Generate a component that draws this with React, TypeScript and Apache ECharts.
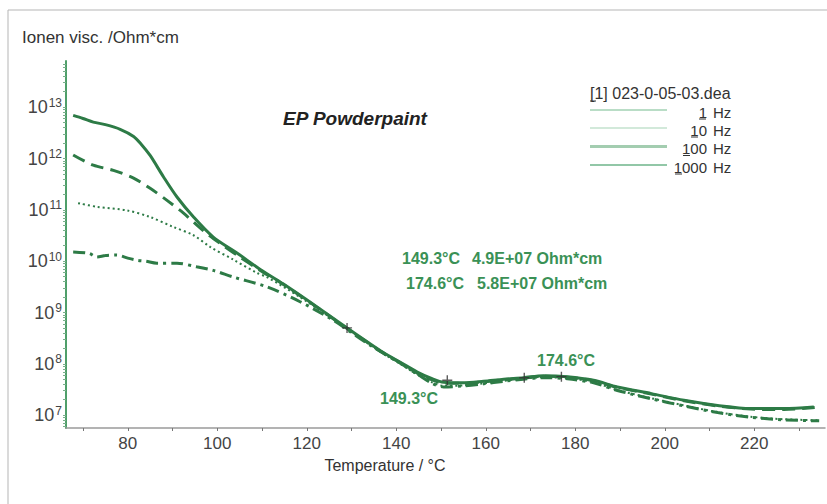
import React, { useEffect, useRef } from "react";
import * as echarts from "echarts";

// ---- data (temperature °C, log10 of ion viscosity in Ohm*cm) ----
const temp1Hz = [67.8, 70, 72.3, 75, 78.3, 81.3, 83, 85, 88, 91, 94.7, 99.1, 104.4, 109.6, 114.7, 122.3, 129, 137.1, 140.9, 144.7, 148, 150.6, 155, 159.5, 164, 168.4, 172.9, 178.2, 184.1, 189.4, 197, 204.3, 211.8, 219.2, 226.6, 233.3];
const logVisc1Hz = [12.84, 12.78, 12.71, 12.66, 12.57, 12.43, 12.28, 12.06, 11.64, 11.25, 10.86, 10.47, 10.16, 9.84, 9.56, 9.11, 8.70, 8.22, 8.03, 7.84, 7.71, 7.64, 7.63, 7.66, 7.70, 7.73, 7.77, 7.75, 7.68, 7.55, 7.42, 7.29, 7.19, 7.13, 7.13, 7.16];

const temp10Hz = [67.8, 72.3, 76.8, 81.3, 85, 88.7, 92.4, 96.8, 100.6, 104.4, 109.6, 114.7, 122.3, 129, 137.1, 140.9, 144.7, 148, 150.6, 155, 159.5, 164, 168.4, 172.9, 178.2, 184.1, 189.4, 197, 204.3, 211.8, 219.2, 226.6, 233.5];
const logVisc10Hz = [12.07, 11.87, 11.77, 11.62, 11.42, 11.19, 10.94, 10.60, 10.35, 10.12, 9.82, 9.55, 9.10, 8.69, 8.21, 8.02, 7.82, 7.69, 7.62, 7.62, 7.65, 7.69, 7.72, 7.76, 7.74, 7.67, 7.54, 7.41, 7.28, 7.18, 7.12, 7.11, 7.15];

const temp100Hz = [68.9, 73.1, 79.8, 85, 90.1, 94.6, 98.4, 103.6, 108.9, 111.1, 118.5, 124, 129, 137.1, 140.9, 144.7, 148, 150.6, 155, 159.5, 164, 168.4, 172.9, 178.2, 184.1, 189.4, 197, 204.3, 211.8, 219.2, 226.6, 234.3];
const logVisc100Hz = [11.13, 11.06, 10.99, 10.86, 10.67, 10.51, 10.28, 10.03, 9.77, 9.69, 9.30, 8.98, 8.68, 8.20, 8.00, 7.79, 7.64, 7.57, 7.58, 7.62, 7.67, 7.71, 7.74, 7.72, 7.64, 7.49, 7.33, 7.19, 7.06, 6.97, 6.92, 6.90];

const temp1000Hz = [67.8, 71.4, 73.1, 75, 77.5, 80, 82, 84, 86.5, 91, 95.4, 99.1, 103.6, 111.1, 118.5, 125.9, 133.5, 140.9, 144.7, 148, 150.6, 155, 159.5, 164, 168.4, 172.9, 178.2, 184.1, 189.4, 197, 204.3, 211.8, 219.2, 226.6, 234.5];
const logVisc1000Hz = [10.18, 10.15, 10.08, 10.11, 10.12, 10.06, 10.02, 10.0, 9.96, 9.96, 9.89, 9.82, 9.69, 9.50, 9.21, 8.85, 8.40, 8.01, 7.80, 7.62, 7.55, 7.57, 7.61, 7.66, 7.70, 7.73, 7.71, 7.63, 7.48, 7.32, 7.18, 7.05, 6.96, 6.91, 6.89];

const markerTemps = [129.0, 151.4, 168.6, 176.9];
const markerLogVisc = [8.70, 7.68, 7.73, 7.75];

const xTickValues = [70, 80, 90, 100, 110, 120, 130, 140, 150, 160, 170, 180, 190, 200, 210, 220, 230];
const xLabelValues = [80, 100, 120, 140, 160, 180, 200, 220];
const yLabelExponents = [7, 8, 9, 10, 11, 12, 13];
const legendFreqs = ["1", "10", "100", "1000"];
const legendUnit = "Hz";

const FONT = "'Liberation Sans', Arial, sans-serif";
const LINE = "#2d7b46";
const TEXT_GREEN = "#3a9156";

function yTicks(): number[] {
  const out: number[] = [];
  for (let d = 6; d <= 13; d++) {
    for (let m = 1; m <= 9; m++) {
      const v = d + Math.log10(m);
      if (v >= 6.75 && v <= 13.9) out.push(v);
    }
  }
  return out;
}

const zip = (xs: number[], ys: number[]) => xs.map((x, i) => [x, ys[i]]);

export default function App() {
  const ref = useRef<HTMLDivElement>(null);
  useEffect(() => {
    if (!ref.current) return;
    const chart = echarts.init(ref.current, undefined, { renderer: "svg" });

    const legendY = [110, 128, 146.5, 165];
    const legendLineStyles = [
      { stroke: "#b9ddc6", lineWidth: 2 },
      { stroke: "#a6d3b6", lineWidth: 1.2 },
      { stroke: "#a3cdb0", lineWidth: 3 },
      { stroke: "#6eb48a", lineWidth: 1.6 },
    ];
    const underlineX = [699, 691, 683, 675];

    const graphic: any[] = [
      { type: "rect", silent: true, shape: { x: 8, y: 10, width: 900, height: 600 }, style: { fill: "none", stroke: "#b5b5b5", lineWidth: 1 } },
      { type: "text", x: 22, y: 37, style: { text: "Ionen visc. /Ohm*cm", font: `17px ${FONT}`, fill: "#333", textVerticalAlign: "middle" } },
      { type: "text", x: 385, y: 465, style: { text: "Temperature / °C", font: `16px ${FONT}`, fill: "#333", textAlign: "center", textVerticalAlign: "middle" } },
      { type: "text", x: 283, y: 118, style: { text: "EP Powderpaint", font: `italic bold 19px ${FONT}`, fill: "#222", textVerticalAlign: "middle" } },
      { type: "text", x: 590, y: 93, style: { text: "[1] 023-0-05-03.dea", font: `16px ${FONT}`, fill: "#333", textVerticalAlign: "middle" } },
      { type: "line", shape: { x1: 590, y1: 101, x2: 596, y2: 101 }, style: { stroke: "#333", lineWidth: 1 } },
      { type: "text", x: 402, y: 258, style: { text: "149.3°C", font: `bold 16px ${FONT}`, fill: TEXT_GREEN, textVerticalAlign: "middle" } },
      { type: "text", x: 472, y: 258, style: { text: "4.9E+07 Ohm*cm", font: `bold 16px ${FONT}`, fill: TEXT_GREEN, textVerticalAlign: "middle" } },
      { type: "text", x: 406, y: 283, style: { text: "174.6°C", font: `bold 16px ${FONT}`, fill: TEXT_GREEN, textVerticalAlign: "middle" } },
      { type: "text", x: 477, y: 283, style: { text: "5.8E+07 Ohm*cm", font: `bold 16px ${FONT}`, fill: TEXT_GREEN, textVerticalAlign: "middle" } },
      { type: "text", x: 380, y: 398, style: { text: "149.3°C", font: `bold 16px ${FONT}`, fill: TEXT_GREEN, textVerticalAlign: "middle" } },
      { type: "text", x: 537, y: 360, style: { text: "174.6°C", font: `bold 16px ${FONT}`, fill: TEXT_GREEN, textVerticalAlign: "middle" } },
    ];
    legendFreqs.forEach((f, i) => {
      graphic.push({ type: "line", shape: { x1: 590, y1: legendY[i], x2: 667, y2: legendY[i] }, style: legendLineStyles[i] });
      graphic.push({ type: "text", x: 707, y: legendY[i] + 2, style: { text: f, font: `15px ${FONT}`, fill: "#333", textAlign: "right", textVerticalAlign: "middle" } });
      graphic.push({ type: "text", x: 713, y: legendY[i] + 2, style: { text: legendUnit, font: `15px ${FONT}`, fill: "#333", textAlign: "left", textVerticalAlign: "middle" } });
      graphic.push({ type: "line", shape: { x1: underlineX[i], y1: legendY[i] + 9, x2: underlineX[i] + 7, y2: legendY[i] + 9 }, style: { stroke: "#333", lineWidth: 1 } });
    });

    const baseLine = { type: "line", showSymbol: false, symbol: "none", smooth: 0.3, z: 3 };

    chart.setOption({
      animation: false,
      grid: { left: 66, top: 61, right: 2, bottom: 76, containLabel: false },
      xAxis: {
        type: "value",
        min: 66.2,
        max: 235.8,
        axisLine: { show: true, lineStyle: { color: "#9a9a9a", width: 1.5 } },
        axisTick: { show: true, customValues: xTickValues, length: 3, lineStyle: { color: "#777" } },
        axisLabel: { customValues: xLabelValues, fontSize: 17, color: "#444", margin: 7, fontFamily: FONT },
        splitLine: { show: false },
      },
      yAxis: {
        type: "value",
        min: 6.75,
        max: 13.9,
        axisLine: { show: true, lineStyle: { color: "#4f9f6a", width: 2 } },
        axisTick: { show: true, customValues: yTicks(), length: 3, lineStyle: { color: "#79b08b" } },
        axisLabel: {
          customValues: yLabelExponents,
          margin: 4,
          formatter: (v: number) => `{b|10}{s|${Math.round(v)}}`,
          rich: {
            b: { fontSize: 18, color: "#444", fontFamily: FONT, lineHeight: 20, padding: [0, 1, 0, 0] },
            s: { fontSize: 12, color: "#444", fontFamily: FONT, padding: [0, 0, 9, 0] },
          },
        },
        splitLine: { show: false },
      },
      graphic,
      series: [
        { ...baseLine, name: "1 Hz", data: zip(temp1Hz, logVisc1Hz), lineStyle: { color: LINE, width: 3, type: "solid" } },
        { ...baseLine, name: "10 Hz", data: zip(temp10Hz, logVisc10Hz), lineStyle: { color: LINE, width: 3, type: [13, 7] } },
        { ...baseLine, name: "100 Hz", data: zip(temp100Hz, logVisc100Hz), lineStyle: { color: LINE, width: 2, type: [2, 3] } },
        { ...baseLine, name: "1000 Hz", data: zip(temp1000Hz, logVisc1000Hz), lineStyle: { color: LINE, width: 3, type: [12, 5, 3, 5] } },
        {
          type: "scatter",
          name: "markers",
          data: zip(markerTemps, markerLogVisc),
          symbol: "path://M4.3,0H5.7V10H4.3ZM0,4.3H10V5.7H0Z",
          symbolSize: 10,
          itemStyle: { color: "#333" },
          z: 5,
        },
      ],
    });
    return () => chart.dispose();
  }, []);

  return <div ref={ref} style={{ position: "fixed", left: 0, top: 0, width: 827, height: 504, background: "#fff" }} />;
}
